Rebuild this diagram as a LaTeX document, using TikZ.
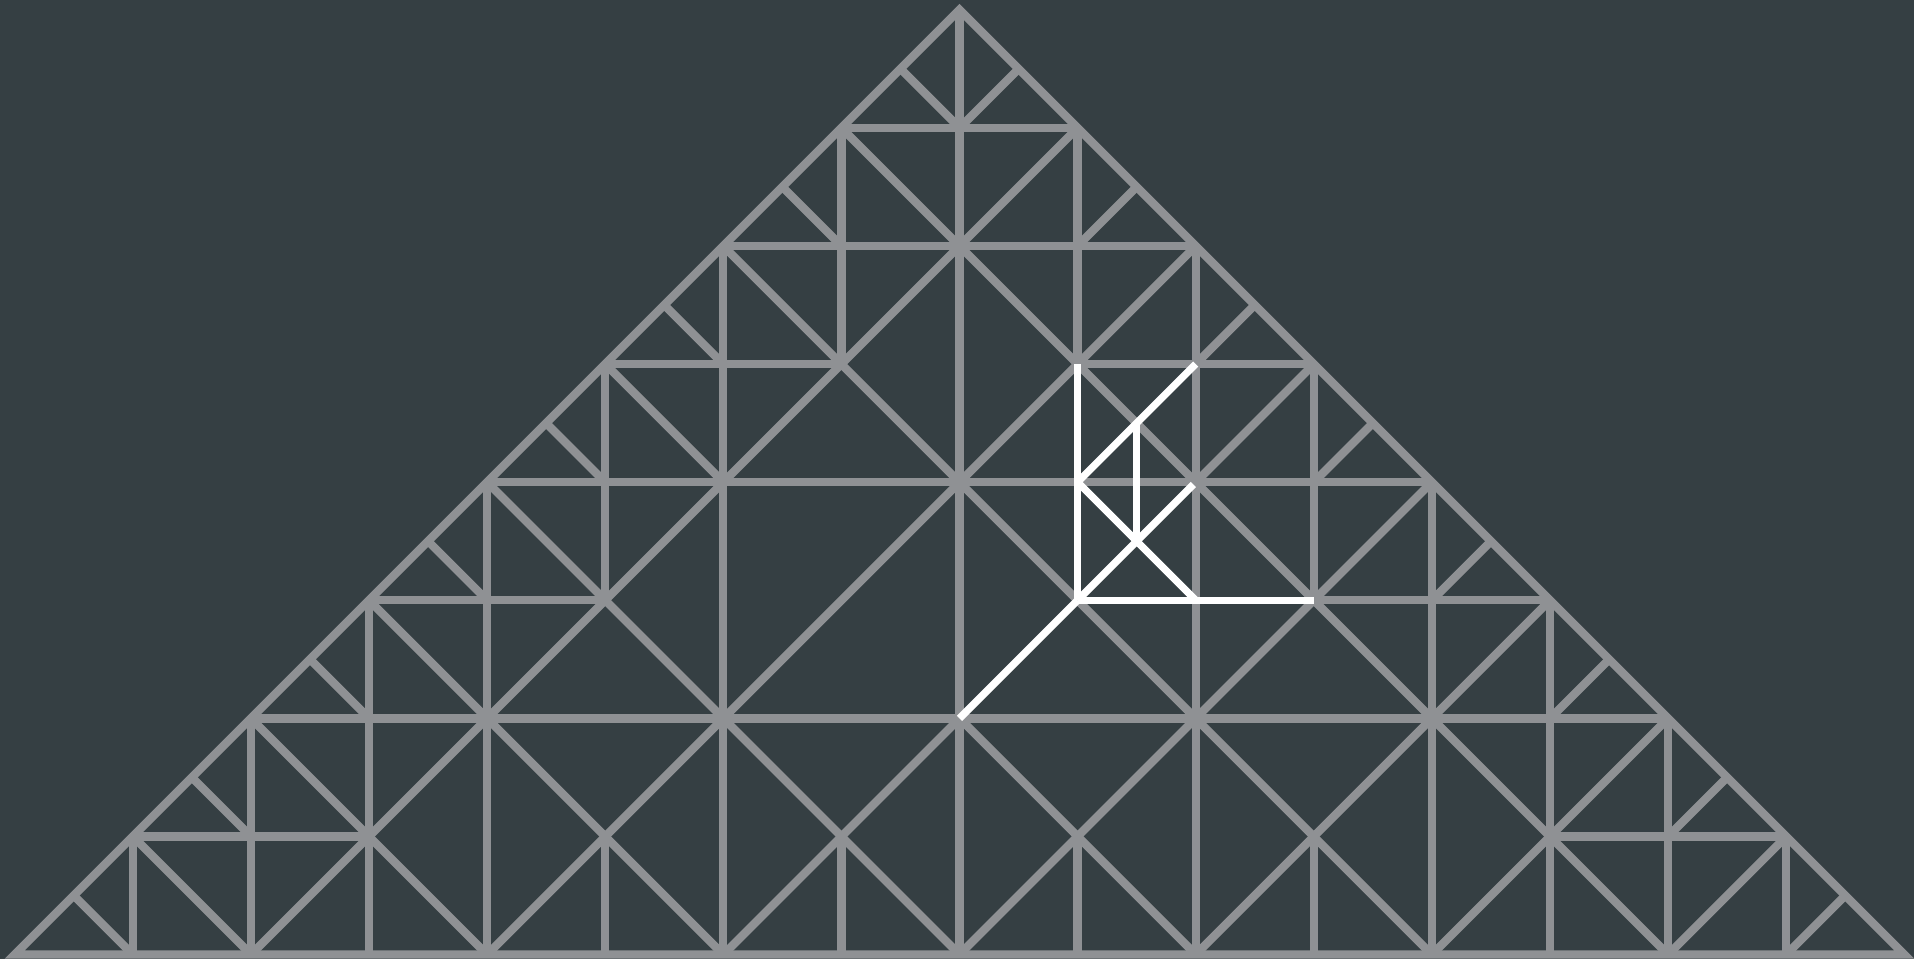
\documentclass[tikz,border=0pt]{standalone}
\usetikzlibrary{calc}
\definecolor{bgcol}{HTML}{353F43}
\definecolor{meshcol}{HTML}{8F9194}
\tikzset{
  meshline/.style={draw=meshcol, line width=2.0pt, line cap=butt},
  hiline/.style={draw=white, line width=1.76pt, line cap=butt}
}
\begin{document}
\begin{tikzpicture}
  \useasboundingbox (-8.125,-0.037) rectangle (8.082,8.083);
  \fill[bgcol] (-8.125,-0.037) rectangle (8.082,8.083);

  % outline
  \coordinate (L) at (-8,0);
  \coordinate (R) at (8,0);
  \coordinate (T) at (0,8);
  \draw[meshline, line join=miter] (L) -- (R) -- (T) -- cycle;

  % horizontals
  \draw[meshline] (-7,1) -- (-5,1);  \draw[meshline] (5,1) -- (7,1);
  \draw[meshline] (-6,2) -- (6,2);
  \draw[meshline] (-5,3) -- (-3,3);  \draw[meshline] (3,3) -- (5,3);
  \draw[meshline] (-4,4) -- (4,4);
  \draw[meshline] (-3,5) -- (-1,5);  \draw[meshline] (1,5) -- (3,5);
  \draw[meshline] (-2,6) -- (2,6);
  \draw[meshline] (-1,7) -- (1,7);

  % verticals
  \draw[meshline] (0,0) -- (0,8);
  \foreach \s in {-1,1} {
    \draw[meshline] (\s*1,0) -- (\s*1,1);
    \draw[meshline] (\s*1,5) -- (\s*1,7);
    \draw[meshline] (\s*2,0) -- (\s*2,6);
    \draw[meshline] (\s*3,0) -- (\s*3,1);
    \draw[meshline] (\s*3,3) -- (\s*3,5);
    \draw[meshline] (\s*4,0) -- (\s*4,4);
    \draw[meshline] (\s*5,0) -- (\s*5,3);
    \draw[meshline] (\s*6,0) -- (\s*6,2);
    \draw[meshline] (\s*7,0) -- (\s*7,1);
  }

  % short bisections to the outline
  \foreach \k in {0,...,7} {
    \draw[meshline] ({-(8-\k)+0.5},{\k+0.5}) -- ({-(8-\k)+1},\k);
    \draw[meshline] ({(8-\k)-0.5},{\k+0.5}) -- ({(8-\k)-1},\k);
  }

  % long diagonals (mirrored pairs)
  \foreach \s in {-1,1} {
    \draw[meshline] (\s*7,1) -- (\s*6,0);
    \draw[meshline] (\s*6,2) -- (\s*4,0);
    \draw[meshline] (\s*5,3) -- (\s*2,0);
    \draw[meshline] (\s*4,4) -- (0,0);
    \draw[meshline] (\s*3,5) -- (\s*2,4);
    \draw[meshline] (\s*2,6) -- (0,4);
    \draw[meshline] (\s*1,7) -- (0,6);
    \draw[meshline] (\s*6,0) -- (0,6);
    \draw[meshline] (\s*4,0) -- (0,4);
    \draw[meshline] (\s*2,0) -- (0,2);
  }

  % highlighted refinement
  \coordinate (a) at (1,5);
  \coordinate (b) at (1,3);
  \coordinate (c) at (2,5);
  \coordinate (d) at (1,4);
  \coordinate (e) at (1.5,4.5);
  \coordinate (f) at (1.5,3.5);
  \coordinate (g) at (2,3);
  \coordinate (h) at (1.98,3.98);
  \coordinate (i) at (3,3);
  \coordinate (j) at (0,2);
  \draw[hiline] (a) -- (b);
  \draw[hiline] (c) -- (d);
  \draw[hiline] (e) -- (f);
  \draw[hiline] (d) -- (g);
  \draw[hiline] (h) -- (b);
  \draw[hiline] (b) -- (i);
  \draw[hiline] (b) -- (j);
\end{tikzpicture}
\end{document}
